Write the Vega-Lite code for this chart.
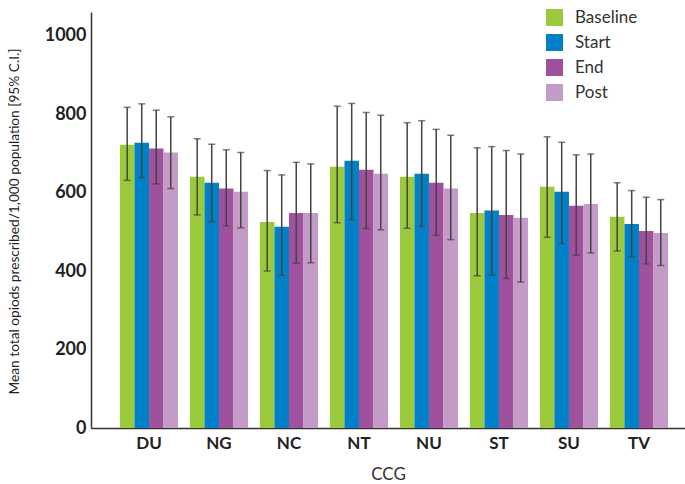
{
  "$schema": "https://vega.github.io/schema/vega-lite/v6.json",
  "width": 594,
  "height": 416,
  "autosize": "none",
  "padding": {"left": 91, "top": 12, "right": 0, "bottom": 56},
  "background": "white",
  "config": {"view": {"stroke": null}, "font": "Lato"},
  "data": {"values": [
    {"ccg": "DU", "period": "Baseline", "value": 722, "lo": 631, "hi": 817},
    {"ccg": "DU", "period": "Start", "value": 727, "lo": 638, "hi": 826},
    {"ccg": "DU", "period": "End", "value": 712, "lo": 622, "hi": 810},
    {"ccg": "DU", "period": "Post", "value": 702, "lo": 610, "hi": 793},
    {"ccg": "NG", "period": "Baseline", "value": 640, "lo": 543, "hi": 737},
    {"ccg": "NG", "period": "Start", "value": 625, "lo": 525, "hi": 723},
    {"ccg": "NG", "period": "End", "value": 610, "lo": 515, "hi": 709},
    {"ccg": "NG", "period": "Post", "value": 602, "lo": 510, "hi": 702},
    {"ccg": "NC", "period": "Baseline", "value": 525, "lo": 400, "hi": 656},
    {"ccg": "NC", "period": "Start", "value": 513, "lo": 389, "hi": 645},
    {"ccg": "NC", "period": "End", "value": 548, "lo": 420, "hi": 677},
    {"ccg": "NC", "period": "Post", "value": 548, "lo": 421, "hi": 673},
    {"ccg": "NT", "period": "Baseline", "value": 666, "lo": 523, "hi": 820},
    {"ccg": "NT", "period": "Start", "value": 681, "lo": 531, "hi": 827},
    {"ccg": "NT", "period": "End", "value": 658, "lo": 508, "hi": 804},
    {"ccg": "NT", "period": "Post", "value": 648, "lo": 505, "hi": 797},
    {"ccg": "NU", "period": "Baseline", "value": 640, "lo": 509, "hi": 778},
    {"ccg": "NU", "period": "Start", "value": 648, "lo": 514, "hi": 783},
    {"ccg": "NU", "period": "End", "value": 625, "lo": 491, "hi": 761},
    {"ccg": "NU", "period": "Post", "value": 610, "lo": 480, "hi": 746},
    {"ccg": "ST", "period": "Baseline", "value": 548, "lo": 388, "hi": 714},
    {"ccg": "ST", "period": "Start", "value": 554, "lo": 390, "hi": 717},
    {"ccg": "ST", "period": "End", "value": 543, "lo": 381, "hi": 707},
    {"ccg": "ST", "period": "Post", "value": 536, "lo": 372, "hi": 698},
    {"ccg": "SU", "period": "Baseline", "value": 615, "lo": 486, "hi": 742},
    {"ccg": "SU", "period": "Start", "value": 602, "lo": 470, "hi": 728},
    {"ccg": "SU", "period": "End", "value": 566, "lo": 440, "hi": 696},
    {"ccg": "SU", "period": "Post", "value": 571, "lo": 446, "hi": 698},
    {"ccg": "TV", "period": "Baseline", "value": 538, "lo": 451, "hi": 625},
    {"ccg": "TV", "period": "Start", "value": 520, "lo": 436, "hi": 605},
    {"ccg": "TV", "period": "End", "value": 502, "lo": 418, "hi": 588},
    {"ccg": "TV", "period": "Post", "value": 497, "lo": 414, "hi": 582}
  ]},
  "encoding": {
    "x": {
      "field": "ccg", "type": "nominal",
      "sort": ["DU", "NG", "NC", "NT", "NU", "ST", "SU", "TV"],
      "scale": {"paddingInner": 0.17, "paddingOuter": 0.328, "align": 0.63},
      "axis": {
        "title": "CCG", "titleFontSize": 17, "titleFontWeight": "normal", "titleColor": "#333333", "titlePadding": 15,
        "labelAngle": 0, "labelFontSize": 17, "labelFontWeight": "bold", "labelColor": "#222222", "labelPadding": 7,
        "ticks": false, "domainColor": "#333333", "domainWidth": 1.5
      }
    },
    "xOffset": {"field": "period", "type": "nominal", "sort": ["Baseline", "Start", "End", "Post"], "scale": {"paddingInner": 0, "paddingOuter": 0}}
  },
  "layer": [
    {
      "mark": {"type": "bar"},
      "encoding": {
        "y": {
          "field": "value", "type": "quantitative",
          "scale": {"domain": [0, 1060], "nice": false},
          "axis": {
            "values": [0, 200, 400, 600, 800, 1000], "format": "d",
            "grid": false, "ticks": false,
            "labelFontSize": 18, "labelFontWeight": "bold", "labelColor": "#222222", "labelPadding": 5,
            "domainColor": "#333333", "domainWidth": 1.5,
            "title": "Mean total opiods prescribed/1,000 population [95% C.I.]",
            "titleFontSize": 13.7, "titleFontWeight": "normal", "titleColor": "#222222",
            "titleAngle": -90, "titleX": -77, "titleY": 209, "titleAlign": "center", "titleBaseline": "middle"
          }
        },
        "color": {
          "field": "period", "type": "nominal",
          "sort": ["Baseline", "Start", "End", "Post"],
          "scale": {"domain": ["Baseline", "Start", "End", "Post"], "range": ["#9BC93C", "#0080C6", "#A0519E", "#C49AC7"]},
          "legend": {
            "title": null, "orient": "none", "legendX": 455, "legendY": -3,
            "symbolType": "square", "symbolSize": 289, "symbolStrokeWidth": 0, "symbolOpacity": 1,
            "labelFontSize": 17, "labelColor": "#333333", "labelOffset": 12, "rowPadding": 7
          }
        }
      }
    },
    {
      "mark": {"type": "rule", "color": "#444444", "strokeWidth": 1.5},
      "encoding": {
        "y": {"field": "lo", "type": "quantitative"},
        "y2": {"field": "hi"}
      }
    },
    {
      "mark": {"type": "tick", "color": "#444444", "thickness": 1.5, "size": 7},
      "encoding": {"y": {"field": "lo", "type": "quantitative"}}
    },
    {
      "mark": {"type": "tick", "color": "#444444", "thickness": 1.5, "size": 7},
      "encoding": {"y": {"field": "hi", "type": "quantitative"}}
    }
  ]
}
